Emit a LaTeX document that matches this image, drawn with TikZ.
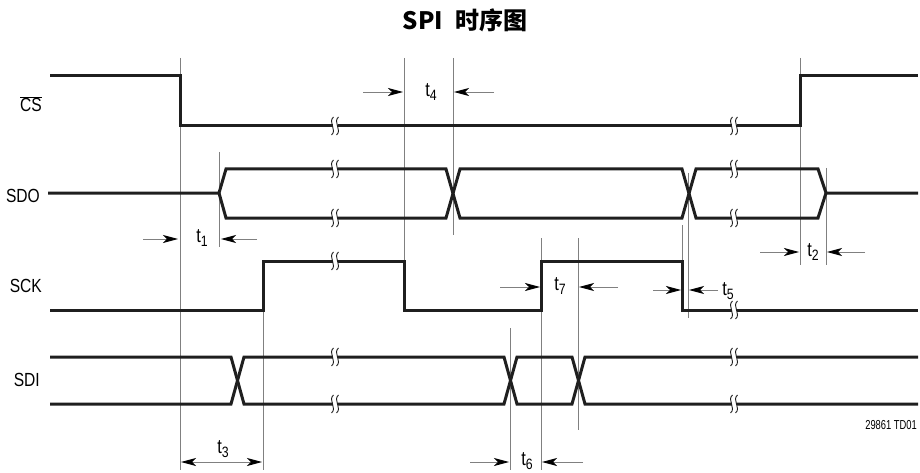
\documentclass[tikz,border=0pt]{standalone}
\usepackage{fontspec}
\setmainfont{Liberation Sans}
\newfontfamily\cjkfont{Noto Sans CJK SC}
\newfontfamily\condfont[FakeStretch=0.82]{Liberation Sans}
\newfontfamily\narrowfont[FakeStretch=0.72]{Liberation Sans}
\usetikzlibrary{arrows.meta}

\tikzset{
  sig/.style={line width=3pt,color=black!88,line join=miter},
  refl/.style={line width=0.9pt,color=gray},
  dim/.style={line width=0.9pt,color=gray,-{Stealth[length=15pt,width=8pt,inset=4pt,color=black]}},
  dimboth/.style={line width=0.9pt,color=gray,{Stealth[length=15pt,width=8pt,inset=4pt,color=black]}-{Stealth[length=15pt,width=8pt,inset=4pt,color=black]}},
  lab/.style={font=\condfont\fontsize{19}{19}\selectfont,inner sep=0pt},
  tlab/.style={font=\condfont\fontsize{20}{20}\selectfont,inner sep=0pt}
}
\newcommand{\tsub}[1]{t\raisebox{-4.5pt}{\fontsize{15}{15}\selectfont #1}}
% break mark on a signal line
\newcommand{\sigbreak}[2]{%
  \fill[white] (#1-2.5,#2-2.5) rectangle (#1+2.5,#2+2.5);
  \foreach \dx in {-2.5,2.5}
    \draw[line width=0.9pt,color=black!88] (#1+\dx+1,#2-9) .. controls (#1+\dx-5,#2-4) and (#1+\dx+5,#2+4) .. (#1+\dx-1,#2+9);
}

\begin{document}
\begin{tikzpicture}[x=1pt,y=-1pt]
  \useasboundingbox (0,0) rectangle (920,473);
  \node[font=\cjkfont\bfseries\fontsize{24}{24}\selectfont] (title) at (465,20) {SPI\hspace{0.5em}时序图};
  % reference lines
  \draw[refl] (180,58) -- (180,470);
  \draw[refl] (219,152) -- (219,247);
  \draw[refl] (263,261) -- (263,470);
  \draw[refl] (404,58) -- (404,261);
  \draw[refl] (453,58) -- (453,235);
  \draw[refl] (510,328) -- (510,470);
  \draw[refl] (541,238) -- (541,470);
  \draw[refl] (578,238) -- (578,430);
  \draw[refl] (682,225) -- (682,261);
  \draw[refl] (688,173) -- (688,318);
  \draw[refl] (800,58) -- (800,265);
  \draw[refl] (826,168) -- (826,265);
  % CS
  \begin{scope}
    \node[lab,anchor=east] (cs) at (42,104) {$\overline{\mbox{CS}}$};
    \draw[sig] (50,76) -- (180,76) -- (180,126) -- (800,126) -- (800,76) -- (918,76);
    \sigbreak{335}{126}
    \sigbreak{734}{126}
  \end{scope}
  % SDO
  \begin{scope}
    \node[lab,anchor=east] (sdo) at (40,196) {SDO};
    \draw[sig] (48,193) -- (219,193) -- (226,169) -- (446,169) -- (460,218) -- (682,218)
      -- (696,169) -- (818,169) -- (826,193) -- (918,193);
    \draw[sig] (219,193) -- (226,218) -- (446,218) -- (460,169) -- (682,169)
      -- (696,218) -- (818,218) -- (826,193);
    \sigbreak{335}{169}
    \sigbreak{335}{218}
    \sigbreak{734}{169}
    \sigbreak{734}{218}
  \end{scope}
  % SCK
  \begin{scope}
    \node[lab,anchor=east] (sck) at (42,286) {SCK};
    \draw[sig] (50,310) -- (263,310) -- (263,261) -- (404,261) -- (404,310) -- (541,310)
      -- (541,261) -- (682,261) -- (682,310) -- (918,310);
    \sigbreak{335}{261}
    \sigbreak{734}{310}
  \end{scope}
  % SDI
  \begin{scope}
    \node[lab,anchor=east] (sdi) at (40,380) {SDI};
    \draw[sig] (50,357) -- (231,357) -- (244,404) -- (504,404) -- (517,357) -- (572,357)
      -- (585,404) -- (918,404);
    \draw[sig] (50,404) -- (231,404) -- (244,357) -- (504,357) -- (517,404) -- (572,404)
      -- (585,357) -- (918,357);
    \sigbreak{335}{357}
    \sigbreak{335}{404}
    \sigbreak{734}{357}
    \sigbreak{734}{404}
  \end{scope}
  % timing marks
  \node[tlab] (t1) at (202,238) {\tsub{1}};
  \draw[dim] (143,239) -- (178,239);
  \draw[dim] (257,239) -- (221,239);
  \node[tlab] (t2) at (813,252) {\tsub{2}};
  \draw[dim] (760,252) -- (799,252);
  \draw[dim] (865,252) -- (827,252);
  \node[tlab] (t3) at (223,449) {\tsub{3}};
  \draw[dimboth] (181,462) -- (262,462);
  \node[tlab] (t4) at (431,92) {\tsub{4}};
  \draw[dim] (363,92) -- (403,92);
  \draw[dim] (494,92) -- (454,92);
  \node[tlab] (t5) at (728,291) {\tsub{5}};
  \draw[dim] (653,290) -- (681,290);
  \draw[dim] (718,290) -- (689,290);
  \node[tlab] (t6) at (527,461) {\tsub{6}};
  \draw[dim] (470,462) -- (509,462);
  \draw[dim] (583,462) -- (542,462);
  \node[tlab] (t7) at (560,286) {\tsub{7}};
  \draw[dim] (500,287) -- (540,287);
  \draw[dim] (618,287) -- (579,287);
  \node[font=\narrowfont\fontsize{13}{13}\selectfont,anchor=east,inner sep=0pt] (code) at (917,425) {29861 TD01};
\end{tikzpicture}
\end{document}
